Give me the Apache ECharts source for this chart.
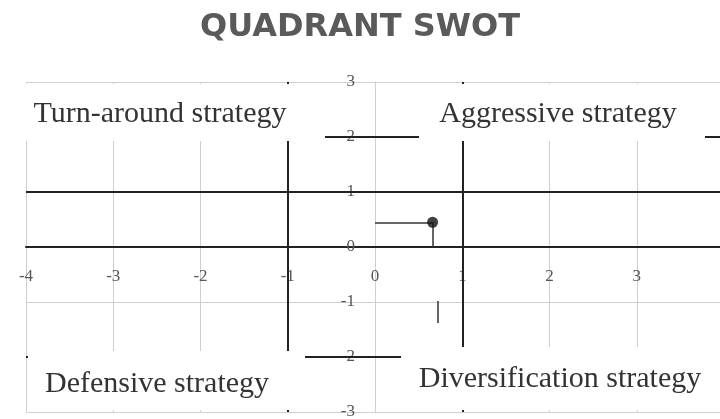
<!DOCTYPE html>
<html>
<head>
<meta charset="utf-8">
<title>Quadrant SWOT</title>
<style>
  html, body { margin: 0; padding: 0; background: #fff; }
  #main { width: 720px; height: 419px; }
</style>
<script src="https://cdn.jsdelivr.net/npm/echarts@6/dist/echarts.min.js"></script>
</head>
<body>
<div id="main"></div>
<script>
// axis ranges / ticks
const xRange = [-4, 4];
const yRange = [-3, 3];
const tickStep = 1;

// the single company position
const position = [[0.66, 0.45]];

// dark dividing lines (y = 0 is the x axis line itself)
const dividerY = [2, 1, -2];
const dividerX = [-1, 1];

// drop lines from the point
const leaderLines = [
  [[0, 0.45], [0.66, 0.45]],
  [[0.66, 0.45], [0.66, 0]],
  [[0.72, -0.98], [0.72, -1.38]]
];

const quadrantNames = [
  "Turn-around strategy",
  "Aggressive strategy",
  "Defensive strategy",
  "Diversification strategy"
];

(function () {
  let dom = document.querySelector("#main");
  let myChart = echarts.init(dom);

  // plot area
  let gridLeft = 26, gridTop = 82, gridW = 698, gridH = 330;
  // move both axes onto the zero lines (labels follow the axis line)
  let xAxisOffset = -gridH * (0 - yRange[0]) / (yRange[1] - yRange[0]);
  let yAxisOffset = -gridW * (0 - xRange[0]) / (xRange[1] - xRange[0]);

  let labelFont = {
    fontFamily: "Liberation Serif",
    fontSize: 30,
    fill: "#333",
    align: "center",
    verticalAlign: "middle"
  };
  // white boxes behind the quadrant names (they hide part of the grid)
  let boxes = [
    { x: 23, y: 84, width: 302, height: 57 },
    { x: 419, y: 84, width: 286, height: 57 },
    { x: 28, y: 351, width: 277, height: 59 },
    { x: 401, y: 347, width: 319, height: 63 }
  ];
  let namePos = [[160, 114], [558, 114], [157, 384], [560, 379]];

  let graphic = [];
  boxes.forEach(function (b) {
    graphic.push({ type: "rect", z: 50, shape: b, style: { fill: "#fff" }, silent: true });
  });
  quadrantNames.forEach(function (name, i) {
    graphic.push({
      type: "text", z: 51, x: namePos[i][0], y: namePos[i][1],
      style: Object.assign({ text: name }, labelFont), silent: true
    });
  });

  let dividerData = dividerY.map(v => ({ yAxis: v })).concat(dividerX.map(v => ({ xAxis: v })));
  let leaderData = leaderLines.map(seg => [{ coord: seg[0] }, { coord: seg[1] }]);

  let options = {
    animation: false,
    title: {
      text: "QUADRANT SWOT",
      left: "center",
      top: 7,
      textStyle: {
        fontFamily: "DejaVu Sans",
        fontWeight: "bold",
        fontSize: 32,
        color: "#5a5a5a"
      }
    },
    grid: {
      left: gridLeft, top: gridTop, width: gridW, height: gridH,
      containLabel: false,
      outerBoundsMode: "none"
    },
    xAxis: {
      type: "value",
      position: "bottom",
      offset: xAxisOffset,
      min: xRange[0],
      max: xRange[1],
      interval: tickStep,
      axisLine: { onZero: false, lineStyle: { color: "#222", width: 2 } },
      axisTick: { show: false },
      axisLabel: { margin: 21, color: "#555", fontFamily: "Liberation Serif", fontSize: 17 },
      splitLine: { lineStyle: { color: "#cfcfcf", width: 1 } }
    },
    yAxis: {
      type: "value",
      position: "left",
      offset: yAxisOffset,
      min: yRange[0],
      max: yRange[1],
      interval: tickStep,
      axisLine: { onZero: false, lineStyle: { color: "#cfcfcf", width: 1 } },
      axisTick: { show: false },
      axisLabel: { margin: 20, color: "#555", fontFamily: "Liberation Serif", fontSize: 17 },
      splitLine: { lineStyle: { color: "#cfcfcf", width: 1 } }
    },
    graphic: graphic,
    series: [
      {
        type: "scatter",
        data: position,
        symbolSize: 11,
        itemStyle: { color: "#111" },
        z: 5,
        markLine: {
          silent: true,
          symbol: "none",
          label: { show: false },
          lineStyle: { color: "#222", width: 2, type: "solid" },
          data: dividerData
        }
      },
      {
        type: "scatter",
        data: [],
        markLine: {
          silent: true,
          symbol: "none",
          label: { show: false },
          lineStyle: { color: "#333", width: 1.5, type: "solid" },
          data: leaderData
        }
      }
    ]
  };
  myChart.setOption(options);
  window.addEventListener("resize", () => {
    myChart.resize();
  });
})();
</script>
</body>
</html>
